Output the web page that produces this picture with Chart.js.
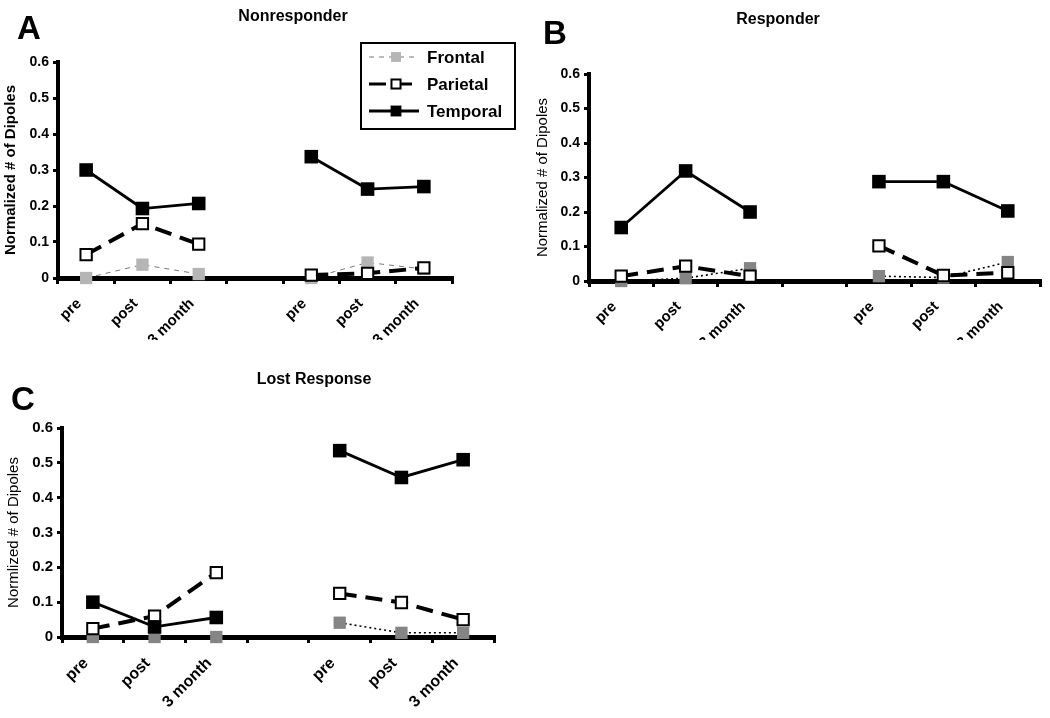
<!DOCTYPE html>
<html><head><meta charset="utf-8">
<script src="https://cdn.jsdelivr.net/npm/chart.js@4.4.1/dist/chart.umd.min.js"></script>
<style>
html,body{margin:0;padding:0;background:#fff;}
body{width:1050px;height:718px;position:relative;overflow:hidden;font-family:"Liberation Sans",Arial,sans-serif;}
canvas{position:absolute;}
.lbl{position:absolute;font-weight:bold;color:#000;white-space:nowrap;line-height:1;}
</style></head><body>
<canvas id="cA" width="525" height="340" style="left:0;top:0"></canvas>
<canvas id="cB" width="525" height="340" style="left:525px;top:0"></canvas>
<canvas id="cC" width="525" height="378" style="left:0;top:340px"></canvas>
<div class="lbl" style="left:293px;top:8px;font-size:16px;transform:translateX(-50%)">Nonresponder</div>
<div class="lbl" style="left:778px;top:11px;font-size:16px;transform:translateX(-50%)">Responder</div>
<div class="lbl" style="left:314px;top:371px;font-size:16px;transform:translateX(-50%)">Lost Response</div>
<div class="lbl" style="left:17px;top:11px;font-size:33px">A</div>
<div class="lbl" style="left:543px;top:16px;font-size:33px">B</div>
<div class="lbl" style="left:11px;top:382px;font-size:33px">C</div>
<script>
// ---- data ----
const categories = ['pre', 'post', '3 month', '', 'pre', 'post', '3 month'];
const yTicks = [0, 0.1, 0.2, 0.3, 0.4, 0.5, 0.6];
const seriesNames = ['Frontal', 'Parietal', 'Temporal'];

const nonresponderFrontal  = [0.000, 0.037, 0.011, null, 0.000, 0.043, 0.025];
const nonresponderParietal = [0.065, 0.151, 0.094, null, 0.008, 0.013, 0.028];
const nonresponderTemporal = [0.300, 0.193, 0.207, null, 0.337, 0.247, 0.254];

const responderFrontal  = [0.000, 0.008, 0.037, null, 0.014, 0.010, 0.055];
const responderParietal = [0.014, 0.043, 0.014, null, 0.102, 0.016, 0.024];
const responderTemporal = [0.155, 0.319, 0.200, null, 0.288, 0.288, 0.203];

const lostFrontal  = [0.000, 0.000, 0.000, null, 0.041, 0.012, 0.012];
const lostParietal = [0.024, 0.060, 0.185, null, 0.125, 0.099, 0.050];
const lostTemporal = [0.100, 0.029, 0.056, null, 0.535, 0.458, 0.509];

// ---- styles ----
Chart.defaults.font.family = '"Liberation Sans", Arial, sans-serif';
Chart.defaults.color = '#000';

function frontalStyle(light) {
  return light ? {
    borderColor: '#777', borderWidth: 1, borderDash: [5, 5],
    pointBackgroundColor: '#b5b5b5', pointBorderColor: '#b5b5b5', pointBorderWidth: 0, pointRadius: 8.7
  } : {
    borderColor: '#000', borderWidth: 1.6, borderDash: [2, 3],
    pointBackgroundColor: '#858585', pointBorderColor: '#858585', pointBorderWidth: 0, pointRadius: 8.7
  };
}
const parietalStyle = {
  borderColor: '#000', borderWidth: 4, borderDash: [17, 9],
  pointBackgroundColor: '#fff', pointBorderColor: '#000', pointBorderWidth: 2, pointRadius: 8
};
const temporalStyle = {
  borderColor: '#000', borderWidth: 2.8, borderDash: [],
  pointBackgroundColor: '#000', pointBorderColor: '#000', pointBorderWidth: 0, pointRadius: 9.6
};

const legendPlugin = {
  id: 'boxLegend',
  afterDraw(chart, args, o) {
    const ctx = chart.ctx;
    ctx.save();
    ctx.setLineDash([]);
    ctx.lineWidth = 2; ctx.strokeStyle = '#000';
    ctx.strokeRect(o.x, o.y, o.w, o.h);
    chart.data.datasets.forEach((ds, i) => {
      const y = o.y + o.row0 + i * o.rowGap;
      ctx.save();
      ctx.beginPath();
      ctx.setLineDash(ds.borderDash || []);
      ctx.lineDashOffset = o.dashOffset[i] || 0;
      ctx.lineWidth = Math.min(ds.borderWidth, 3);
      ctx.strokeStyle = ds.borderColor;
      ctx.moveTo(o.x + 8, y); ctx.lineTo(o.x + 58, y);
      ctx.stroke();
      ctx.setLineDash([]);
      const s = Math.SQRT1_2 * ds.pointRadius * 0.8;
      const cx = o.x + 35;
      ctx.fillStyle = ds.pointBackgroundColor;
      ctx.fillRect(cx - s, y - s, 2 * s, 2 * s);
      if (ds.pointBorderWidth) {
        ctx.lineWidth = ds.pointBorderWidth; ctx.strokeStyle = ds.pointBorderColor;
        ctx.strokeRect(cx - s, y - s, 2 * s, 2 * s);
      }
      ctx.restore();
      ctx.fillStyle = '#000';
      ctx.font = 'bold 17px "Liberation Sans", Arial, sans-serif';
      ctx.textBaseline = 'middle';
      ctx.textAlign = 'left';
      ctx.fillText(ds.label, o.x + 66, y + 1);
    });
    ctx.restore();
  }
};

function makeChart(id, values, cfg) {
  const styles = [frontalStyle(cfg.lightFrontal), parietalStyle, temporalStyle];
  const orders = [3, 2, 1];
  const datasets = values.map((vals, i) => Object.assign({
    label: seriesNames[i], data: vals, order: orders[i], clip: false,
    tension: 0, spanGaps: false, pointStyle: 'rect', pointHoverRadius: 0
  }, styles[i]));
  return new Chart(document.getElementById(id), {
    type: 'line',
    data: { labels: categories, datasets },
    options: {
      responsive: false, animation: false, events: [],
      layout: { padding: { top: cfg.top, right: cfg.right, left: 0, bottom: 0 } },
      plugins: { legend: { display: false }, tooltip: { enabled: false }, boxLegend: cfg.legend || {} },
      scales: {
        x: {
          type: 'category', offset: true,
          grid: { offset: true, display: true, drawOnChartArea: false, drawTicks: true, tickLength: 6, color: '#000', lineWidth: 3 },
          border: { display: true, color: '#000', width: 5 },
          ticks: { autoSkip: false, maxRotation: 45, minRotation: 45, padding: 11, labelOffset: -7, color: '#000',
                   font: { size: cfg.xTickSize, weight: 'bold' } },
          afterFit: s => { s.height = cfg.xh; }
        },
        y: {
          min: 0, max: 0.6,
          afterBuildTicks: s => { s.ticks = yTicks.map(v => ({ value: v })); },
          grid: { display: true, drawOnChartArea: false, drawTicks: true, tickLength: 5, color: '#000', lineWidth: 3 },
          border: { display: true, color: '#000', width: 4 },
          ticks: { padding: 4, color: '#000', font: cfg.yTickFont,
                   callback: v => v === 0 ? '0' : Number(v).toFixed(1) },
          title: { display: true, text: cfg.yTitle, color: '#000', font: cfg.yTitleFont,
                   padding: { top: cfg.yTitlePad, bottom: 0 } },
          afterFit: s => { s.width = cfg.yw; }
        }
      }
    },
    plugins: cfg.legend ? [legendPlugin] : []
  });
}

makeChart('cA', [nonresponderFrontal, nonresponderParietal, nonresponderTemporal], {
  lightFrontal: true, top: 62, right: 73, xh: 62, yw: 58, xTickSize: 15,
  yTitle: 'Normalized # of Dipoles', yTitleFont: { size: 15, weight: 'bold' }, yTitlePad: 2,
  yTickFont: { size: 14, weight: 'bold' },
  legend: { x: 361, y: 43, w: 154, h: 86, row0: 14, rowGap: 27, dashOffset: [0, 0, 0] }
});
makeChart('cB', [responderFrontal, responderParietal, responderTemporal], {
  lightFrontal: false, top: 74, right: 7, xh: 59, yw: 64, xTickSize: 15,
  yTitle: 'Normalized # of Dipoles', yTitleFont: { size: 15, weight: 'normal' }, yTitlePad: 9,
  yTickFont: { size: 14, weight: 'bold' }
});
makeChart('cC', [lostFrontal, lostParietal, lostTemporal], {
  lightFrontal: false, top: 88, right: 31, xh: 81, yw: 62, xTickSize: 16,
  yTitle: 'Normlized # of Dipoles', yTitleFont: { size: 15, weight: 'normal' }, yTitlePad: 5,
  yTickFont: { size: 15, weight: 'bold', family: '"Liberation Sans Narrow", "Arial Narrow", "Liberation Sans", Arial, sans-serif' }
});
</script>
</body></html>
